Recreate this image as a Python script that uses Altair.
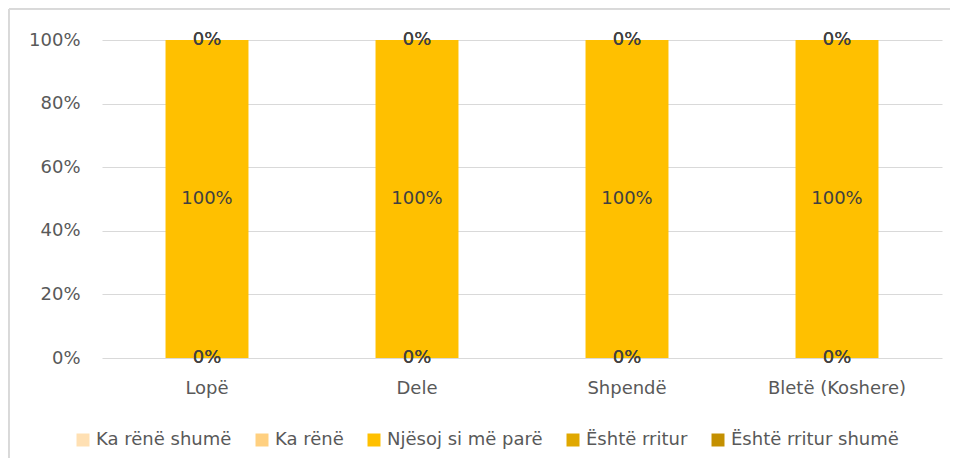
import altair as alt
import pandas as pd

categories = ["Lopë", "Dele", "Shpendë", "Bletë (Koshere)"]
series = ["Ka rënë shumë", "Ka rënë", "Njësoj si më parë", "Është rritur", "Është rritur shumë"]
colors = ["#FFE0B3", "#FFD080", "#FFC000", "#E0A800", "#C49000"]
val_ka_rene_shume = [0, 0, 0, 0]
val_ka_rene = [0, 0, 0, 0]
val_njesoj = [1, 1, 1, 1]
val_rritur = [0, 0, 0, 0]
val_rritur_shume = [0, 0, 0, 0]
y_ticks = [0, 0.2, 0.4, 0.6, 0.8, 1.0]

vals = [val_ka_rene_shume, val_ka_rene, val_njesoj, val_rritur, val_rritur_shume]
rows = []
for si, s in enumerate(series):
    for ci, c in enumerate(categories):
        rows.append({"cat": c, "series": s, "order": si, "value": vals[si][ci]})
df = pd.DataFrame(rows)

FONT = "DejaVu Sans"
base = alt.Chart(df).transform_stack(
    stack="value", groupby=["cat"], as_=["y0", "y1"], sort=[alt.SortField("order")]
).transform_calculate(mid="(datum.y0 + datum.y1) / 2")

xenc = alt.X(
    "cat:N", sort=categories,
    scale=alt.Scale(paddingInner=0.605, paddingOuter=0.3025),
    axis=alt.Axis(title=None, labelAngle=0, domain=False, ticks=False, labelPadding=21,
                  labelFontSize=18, labelColor="#595959", labelFont=FONT),
)

bars = base.mark_bar().encode(
    x=xenc,
    y=alt.Y("y0:Q", scale=alt.Scale(domain=[0, 1]),
            axis=alt.Axis(title=None, values=y_ticks, format=".0%", domain=False, ticks=False,
                          labelPadding=22, labelFontSize=18, labelColor="#595959", labelFont=FONT,
                          gridColor="#d9d9d9", gridWidth=1)),
    y2="y1:Q",
    color=alt.Color("series:N", sort=series,
                    scale=alt.Scale(domain=series, range=colors),
                    legend=alt.Legend(title=None, orient="none", direction="horizontal",
                                      legendX=-28, legendY=391, symbolType="square",
                                      symbolSize=169, symbolStrokeWidth=0, labelFontSize=18,
                                      labelColor="#595959", labelFont=FONT, columnPadding=21,
                                      labelOffset=4, labelLimit=400)),
    order=alt.Order("order:Q"),
)

labels = base.mark_text(fontSize=18, color="#404040", font=FONT, baseline="middle").encode(
    x=alt.X("cat:N", sort=categories),
    y=alt.Y("mid:Q"),
    text=alt.Text("value:Q", format=".0%"),
)

frame_top = alt.Chart(df).mark_rule(color="#d9d9d9", strokeWidth=1).encode(
    x=alt.value(-93), x2=alt.value(900), y=alt.value(-31)
)
frame_left = alt.Chart(df).mark_rule(color="#d9d9d9", strokeWidth=1).encode(
    x=alt.value(-93), y=alt.value(-31), y2=alt.value(500)
)

chart = alt.layer(frame_top, frame_left, bars, labels).properties(
    width=840, height=318,
    autosize=alt.AutoSizeParams(type="none"),
    padding={"left": 94, "top": 32, "right": 8, "bottom": 100},
).configure_view(stroke=None)

chart.save("out.html", embed_options={"renderer": "svg", "actions": False})
